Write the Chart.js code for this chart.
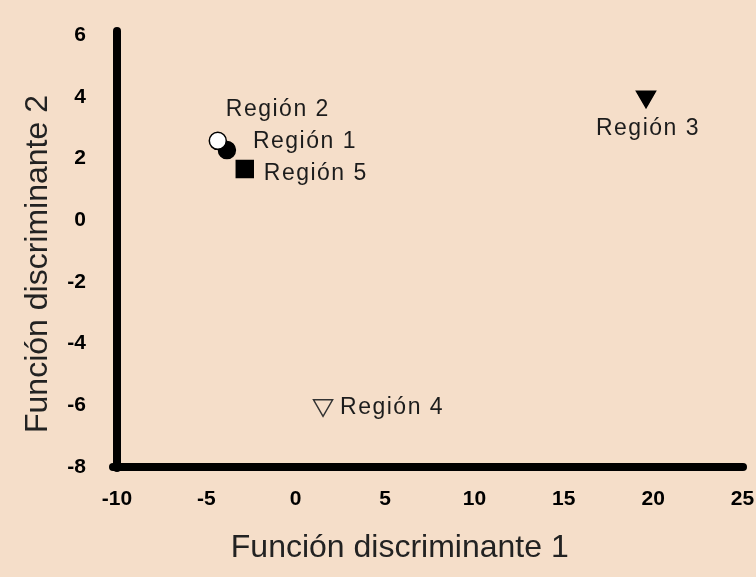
<!DOCTYPE html>
<html>
<head>
<meta charset="utf-8">
<script src="https://cdn.jsdelivr.net/npm/chart.js@4/dist/chart.umd.min.js"></script>
<style>
  html, body { margin: 0; padding: 0; background: #f5dec9; }
  canvas { display: block; }
</style>
</head>
<body>
<canvas id="chart" width="756" height="577"></canvas>
<script>
// data
const regions = ['Región 1', 'Región 2', 'Región 3', 'Región 4', 'Región 5'];
const fn1 = [-3.85, -4.36, 19.6, 1.53, -2.85];
const fn2 = [2.27, 2.57, 4.0, -6.0, 1.66];
const xTitle = 'Función discriminante 1';
const yTitle = 'Función discriminante 2';

// marker looks, same order as regions
const markerStyle = ['circle', 'circle', 'triangle', 'triangle', 'rect'];
const markerRotation = [0, 0, 180, 180, 0];
const markerFill = ['#000000', '#ffffff', '#000000', 'rgba(0,0,0,0)', '#000000'];
const markerBorder = ['#000000', '#000000', '#000000', '#333333', '#000000'];
const markerRadius = [8.5, 8.5, 11, 11, 12];

// where each name sits next to its marker (px)
const labelPlace = [
  { dx: 26, dy: -8, align: 'left' },
  { dx: 8, dy: -31, align: 'left' },
  { dx: 2, dy: 32, align: 'center' },
  { dx: 17, dy: 2, align: 'left' },
  { dx: 19, dy: 5, align: 'left' }
];

const BG = '#f5dec9';

const background = {
  id: 'background',
  beforeDraw(chart) {
    const ctx = chart.ctx;
    ctx.fillStyle = BG;
    ctx.fillRect(0, 0, chart.width, chart.height);
    // rounded ends on the heavy axis lines
    ctx.lineCap = 'round';
  }
};

const regionLabels = {
  id: 'regionLabels',
  afterDatasetsDraw(chart) {
    const ctx = chart.ctx;
    const meta = chart.getDatasetMeta(0);
    ctx.save();
    ctx.font = '23px Arial, "Liberation Sans", sans-serif';
    ctx.fillStyle = '#1c1c1c';
    ctx.textBaseline = 'middle';
    if ('letterSpacing' in ctx) ctx.letterSpacing = '1.5px';
    meta.data.forEach((pt, i) => {
      const p = labelPlace[i];
      ctx.textAlign = p.align;
      ctx.fillText(regions[i], pt.x + p.dx, pt.y + p.dy);
    });
    ctx.restore();
  }
};

// axis titles, drawn by hand so they sit where the original has them
const axisTitles = {
  id: 'axisTitles',
  afterDraw(chart) {
    const ctx = chart.ctx;
    const area = chart.chartArea;
    ctx.save();
    ctx.font = '32px Arial, "Liberation Sans", sans-serif';
    ctx.fillStyle = '#222222';
    ctx.textAlign = 'center';
    ctx.textBaseline = 'middle';
    ctx.fillText(xTitle, (area.left + area.right) / 2 - 30, 548);
    ctx.translate(38, (area.top + area.bottom) / 2 + 13);
    ctx.rotate(-Math.PI / 2);
    ctx.fillText(yTitle, 0, 0);
    ctx.restore();
  }
};

new Chart(document.getElementById('chart'), {
  type: 'scatter',
  data: {
    datasets: [{
      label: 'Regiones',
      data: fn1.map((x, i) => ({ x: x, y: fn2[i] })),
      pointStyle: markerStyle,
      rotation: markerRotation,
      backgroundColor: markerFill,
      borderColor: markerBorder,
      borderWidth: 1.5,
      pointRadius: markerRadius,
      pointHoverRadius: markerRadius
    }]
  },
  options: {
    responsive: false,
    animation: false,
    layout: { padding: { top: 35, right: 13, left: 0, bottom: 0 } },
    plugins: {
      legend: { display: false },
      tooltip: { enabled: false }
    },
    scales: {
      x: {
        type: 'linear',
        min: -10,
        max: 25,
        afterFit(scale) {
          scale.height = 577 - 467;
          scale.paddingLeft = 0;
          scale.paddingRight = 0;
        },
        grid: { display: true, drawOnChartArea: false, drawTicks: false },
        border: { display: true, width: 8, color: '#000000' },
        ticks: {
          stepSize: 5,
          padding: 20,
          color: '#000000',
          font: { family: 'Arial, "Liberation Sans", sans-serif', size: 21, weight: 'bold' }
        }
      },
      y: {
        type: 'linear',
        min: -8,
        max: 6,
        afterFit(scale) {
          scale.width = 117;
          scale.paddingTop = 0;
          scale.paddingBottom = 0;
        },
        grid: { display: true, drawOnChartArea: false, drawTicks: false },
        border: { display: true, width: 8, color: '#000000' },
        ticks: {
          stepSize: 2,
          padding: 31,
          color: '#000000',
          font: { family: 'Arial, "Liberation Sans", sans-serif', size: 21, weight: 'bold' }
        }
      }
    }
  },
  plugins: [background, regionLabels, axisTitles]
});
</script>
</body>
</html>
